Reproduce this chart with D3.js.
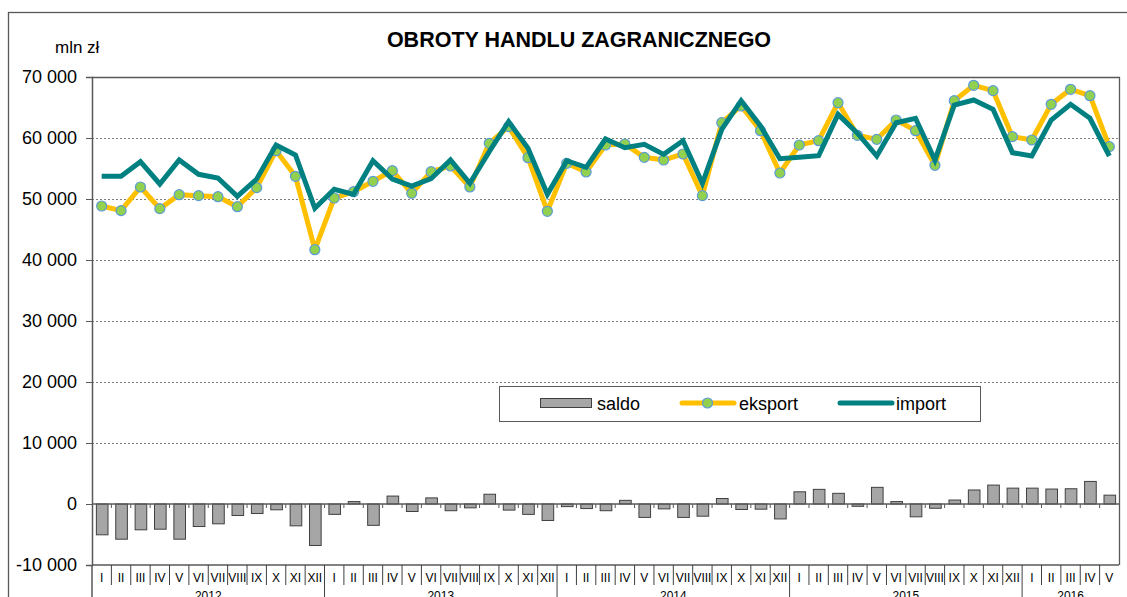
<!DOCTYPE html>
<html>
<head>
<meta charset="utf-8">
<script src="https://cdn.jsdelivr.net/npm/d3@7/dist/d3.min.js"></script>
<style>
  body { margin: 0; background: #fff; }
  text { font-family: "Liberation Sans", Arial, sans-serif; fill: #000; }
</style>
</head>
<body>
<svg id="chart" width="1127" height="597"></svg>
<script>
const monthNames = ["I", "II", "III", "IV", "V", "VI", "VII", "VIII", "IX", "X", "XI", "XII"];
const years = ["2012", "2013", "2014", "2015", "2016"];
const monthsPerYear = [12, 12, 12, 12, 5];

const eksport = [
  48850, 48090, 51970, 48420, 50710, 50550, 50380, 48740, 51860, 57920, 53720, 41690,
  50160, 51200, 52900, 54650, 50930, 54480, 55410, 51970, 59130, 61860, 56770, 47980,
  55850, 54430, 58850, 59020, 56830, 56390, 57380, 50550, 62510, 65250, 61200, 54260,
  58850, 59560, 65790, 60440, 59780, 62950, 61200, 55520, 66120, 68640, 67760, 60220,
  59670, 65520, 67980, 66940, 58580
];
const imports = [
  53720, 53720, 56120, 52460, 56390, 54050, 53440, 50440, 53280, 58850, 57210, 48470,
  51590, 50770, 56280, 53280, 52130, 53330, 56390, 52570, 57760, 62680, 58310, 50770,
  56280, 55190, 59840, 58410, 58960, 57320, 59560, 52570, 61420, 66120, 61970, 56610,
  56830, 57100, 63880, 60800, 57050, 62510, 63230, 56390, 65410, 66230, 64700, 57600,
  57050, 62950, 65520, 63230, 57050
];
const saldo = [
  -5050, -5770, -4230, -4130, -5770, -3690, -3250, -1890, -1560, -950, -3580, -6800,
  -1700, 400, -3500, 1300, -1230, 1000, -1100, -630, 1600, -1000, -1700, -2700,
  -430, -750, -1100, 600, -2200, -800, -2200, -2000, 900, -900, -850, -2450,
  2000, 2400, 1750, -380, 2730, 400, -2100, -700, 650, 2300, 3100, 2600,
  2600, 2450, 2500, 3700, 1450
];
const yTicks = [-10000, 0, 10000, 20000, 30000, 40000, 50000, 60000, 70000];

// categories: one per month
const categories = [];
years.forEach((yr, yi) => {
  for (let m = 0; m < monthsPerYear[yi]; m++) categories.push({ year: yr, month: monthNames[m] });
});
const idx = categories.map((c, i) => i);

const svg = d3.select("#chart");
const plotLeft = 92, plotRight = 1119, plotTop = 77, plotBottom = 565;

svg.append("rect").attr("width", 1127).attr("height", 597).attr("fill", "#fff");
// outer chart frame
svg.append("rect")
  .attr("x", 8.5).attr("y", 12.5).attr("width", 1140).attr("height", 620)
  .attr("fill", "none").attr("stroke", "#595959").attr("stroke-width", 1.3);

const x = d3.scaleBand().domain(idx).range([plotLeft, plotRight]).paddingInner(0.4).paddingOuter(0.2);
const cx = (i) => x(i) + x.bandwidth() / 2;
const y = d3.scaleLinear().domain([-10000, 70000]).range([plotBottom, plotTop]);
const fmt = (v) => (v < 0 ? "-" : "") + d3.format(",")(Math.abs(v)).replace(/,/g, " ");

// title
svg.append("text").attr("x", 579).attr("y", 47).attr("text-anchor", "middle")
  .attr("font-size", 21.5).attr("font-weight", "bold").text("OBROTY HANDLU ZAGRANICZNEGO");
svg.append("text").attr("x", 55).attr("y", 53).attr("font-size", 17).text("mln zł");

// grid
svg.append("g").selectAll("line")
  .data(yTicks.filter((t) => t > -10000 && t < 70000 && t !== 0))
  .join("line")
  .attr("x1", plotLeft).attr("x2", plotRight)
  .attr("y1", (d) => Math.round(y(d)) + 0.5).attr("y2", (d) => Math.round(y(d)) + 0.5)
  .attr("stroke", "#7f7f7f").attr("stroke-dasharray", "2,2");

// plot border top + right
svg.append("path")
  .attr("d", `M${plotLeft},${plotTop + 0.5}H${plotRight + 0.5}V${plotBottom}`)
  .attr("fill", "none").attr("stroke", "#595959").attr("stroke-width", 1.3);

// y axis
const yAxis = svg.append("g")
  .attr("transform", `translate(${plotLeft},0)`)
  .call(d3.axisLeft(y).tickValues(yTicks).tickSize(6).tickPadding(9).tickFormat(fmt));
yAxis.select(".domain").attr("stroke", "#595959").attr("stroke-width", 1.5);
yAxis.selectAll(".tick line").attr("stroke", "#595959");
yAxis.selectAll("text").attr("font-size", 18).attr("font-family", "Liberation Sans, Arial, sans-serif");
svg.append("line").attr("x1", plotLeft).attr("x2", plotLeft).attr("y1", plotBottom).attr("y2", 597)
  .attr("stroke", "#595959").attr("stroke-width", 1.5);

// saldo bars
svg.append("g").selectAll("rect")
  .data(saldo)
  .join("rect")
  .attr("x", (d, i) => x(i) + 0.5)
  .attr("y", (d) => y(Math.max(0, d)))
  .attr("width", x.bandwidth())
  .attr("height", (d) => Math.abs(y(d) - y(0)))
  .attr("fill", "#a6a6a6").attr("stroke", "#404040").attr("stroke-width", 1);

// zero line with ticks at category boundaries
const step = x.step();
svg.append("line").attr("x1", plotLeft).attr("x2", plotRight)
  .attr("y1", y(0)).attr("y2", y(0)).attr("stroke", "#595959").attr("stroke-width", 1.3);
svg.append("g").selectAll("line")
  .data(d3.range(1, categories.length))
  .join("line")
  .attr("x1", (i) => plotLeft + i * step).attr("x2", (i) => plotLeft + i * step)
  .attr("y1", y(0)).attr("y2", y(0) + 4)
  .attr("stroke", "#595959");

// eksport line
const line = (vals) => d3.line().x((d, i) => cx(i)).y((d) => y(d))(vals);
svg.append("path").attr("d", line(eksport))
  .attr("fill", "none").attr("stroke", "#ffc000").attr("stroke-width", 5).attr("stroke-linejoin", "round");
svg.append("g").selectAll("circle")
  .data(eksport)
  .join("circle")
  .attr("cx", (d, i) => cx(i)).attr("cy", (d) => y(d)).attr("r", 5)
  .attr("fill", "#92d050").attr("stroke", "#5b9bd5").attr("stroke-width", 1.2);

// import line
svg.append("path").attr("d", line(imports))
  .attr("fill", "none").attr("stroke", "#008080").attr("stroke-width", 5).attr("stroke-linejoin", "miter");

// category axis (months + years)
const cat = svg.append("g");
cat.append("line").attr("x1", plotLeft).attr("x2", plotRight).attr("y1", plotBottom).attr("y2", plotBottom)
  .attr("stroke", "#595959").attr("stroke-width", 1.3);
const yearStarts = [];
categories.forEach((c, i) => { if (i > 0 && c.month === "I") yearStarts.push(i); });
cat.selectAll("line.sep")
  .data(d3.range(1, categories.length))
  .join("line").attr("class", "sep")
  .attr("x1", (i) => plotLeft + i * step).attr("x2", (i) => plotLeft + i * step)
  .attr("y1", plotBottom).attr("y2", (i) => (yearStarts.includes(i) ? 597 : 585))
  .attr("stroke", "#404040");
cat.selectAll("text.m")
  .data(categories)
  .join("text").attr("class", "m")
  .attr("x", (d, i) => cx(i)).attr("y", 582)
  .attr("text-anchor", "middle").attr("font-size", 12)
  .text((d) => d.month);
let start = 0;
years.forEach((yr, yi) => {
  const n = monthsPerYear[yi];
  cat.append("text")
    .attr("x", plotLeft + (start + n / 2) * step).attr("y", 600)
    .attr("text-anchor", "middle").attr("font-size", 12).text(yr);
  start += n;
});

// legend
const lg = svg.append("g");
lg.append("rect").attr("x", 499.5).attr("y", 386.5).attr("width", 481).attr("height", 35)
  .attr("fill", "#fff").attr("stroke", "#595959");
lg.append("rect").attr("x", 540.5).attr("y", 398.5).attr("width", 51).attr("height", 9)
  .attr("fill", "#a6a6a6").attr("stroke", "#404040");
lg.append("text").attr("x", 597).attr("y", 410).attr("font-size", 18).text("saldo");
lg.append("line").attr("x1", 682).attr("x2", 734).attr("y1", 403).attr("y2", 403)
  .attr("stroke", "#ffc000").attr("stroke-width", 5).attr("stroke-linecap", "round");
lg.append("circle").attr("cx", 707.5).attr("cy", 403).attr("r", 5)
  .attr("fill", "#92d050").attr("stroke", "#5b9bd5").attr("stroke-width", 1.2);
lg.append("text").attr("x", 739).attr("y", 410).attr("font-size", 18).text("eksport");
lg.append("line").attr("x1", 840).attr("x2", 892).attr("y1", 403).attr("y2", 403)
  .attr("stroke", "#008080").attr("stroke-width", 5).attr("stroke-linecap", "round");
lg.append("text").attr("x", 896).attr("y", 410).attr("font-size", 18).text("import");
</script>
</body>
</html>
